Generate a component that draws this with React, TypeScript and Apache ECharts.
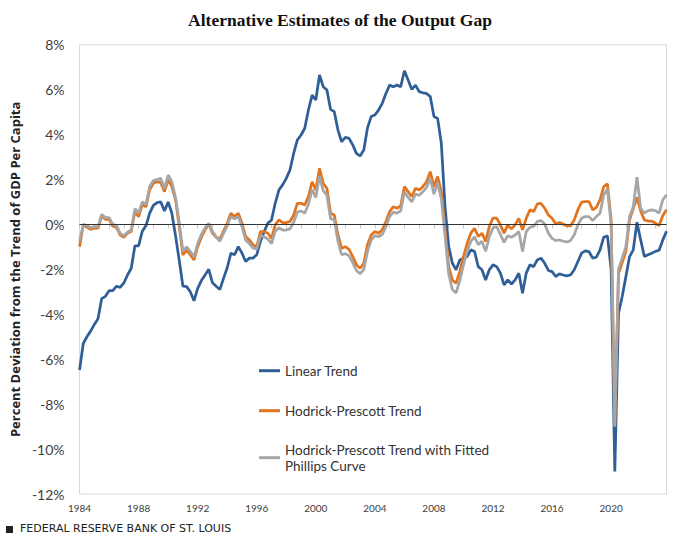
import React, { useEffect, useRef } from "react";
import * as echarts from "echarts";

const TITLE = "Alternative Estimates of the Output Gap";
const Y_NAME = "Percent Deviation from the Trend of GDP Per Capita";
const SOURCE = "FEDERAL RESERVE BANK OF ST. LOUIS";
const SERIES_NAMES = [
  "Linear Trend",
  "Hodrick-Prescott Trend",
  "Hodrick-Prescott Trend with Fitted Phillips Curve",
];

// Quarterly categories 1984Q1 .. 2023Q4
const START_YEAR = 1984;
const END_YEAR = 2023;
const quarters: string[] = [];
for (let y = START_YEAR; y <= END_YEAR; y++) {
  for (let q = 1; q <= 4; q++) quarters.push(`${y}Q${q}`);
}

const linearTrend = [
  -6.48, -5.3, -5.0, -4.75, -4.45, -4.2, -3.3, -3.2, -2.95, -2.95,
  -2.75, -2.8, -2.6, -2.25, -1.95, -0.95, -0.95, -0.3, -0.05, 0.5,
  0.85, 0.97, 1.0, 0.6, 1.0, 0.5, -0.5, -1.6, -2.75, -2.77,
  -3.0, -3.4, -2.85, -2.5, -2.25, -2.0, -2.6, -2.75, -2.9, -2.4,
  -1.93, -1.28, -1.35, -0.99, -1.28, -1.65, -1.5, -1.5, -1.35, -0.76,
  -0.32, 0.05, 0.2, 0.94, 1.53, 1.76, 2.05, 2.42, 3.16, 3.76,
  3.98, 4.28, 5.09, 5.76, 5.54, 6.65, 6.13, 5.98, 5.12, 5.02,
  4.2, 3.68, 3.88, 3.83, 3.54, 3.16, 3.05, 3.31, 4.3, 4.8,
  4.87, 5.09, 5.39, 5.83, 6.2, 6.13, 6.2, 6.13, 6.84, 6.43,
  6.01, 6.2, 5.91, 5.86, 5.83, 5.69, 4.8, 4.72, 3.61, 0.79,
  -0.99, -1.73, -2.02, -1.58, -1.5, -1.43, -1.13, -1.21, -1.88, -2.02,
  -2.47, -2.02, -1.8, -1.88, -2.17, -2.69, -2.47, -2.65, -2.47, -2.17,
  -3.06, -2.17, -1.8, -1.88, -1.58, -1.5, -1.73, -2.05, -2.1, -2.32,
  -2.2, -2.25, -2.29, -2.25, -2.02, -1.65, -1.28, -1.18, -1.21, -1.5,
  -1.46, -1.13, -0.57, -0.51, -2.0, -11.0, -3.95, -3.21, -2.32, -1.43,
  -1.13, 0.1, -0.69, -1.43, -1.35, -1.28, -1.2, -1.15, -0.69, -0.3,
];

const hpTrend = [
  -0.99, -0.02, -0.13, -0.22, -0.17, -0.17, 0.38, 0.23, 0.23, -0.07,
  -0.13, -0.47, -0.57, -0.39, -0.32, 0.57, 0.35, 0.87, 0.79, 1.54,
  1.83, 1.9, 1.86, 1.46, 1.98, 1.68, 1.09, -0.1, -1.36, -1.13,
  -1.36, -1.58, -0.99, -0.57, -0.24, 0.02, -0.39, -0.57, -0.65, -0.3,
  0.05, 0.5, 0.35, 0.5, 0.05, -0.54, -0.69, -0.91, -0.99, -0.32,
  -0.32, -0.39, -0.62, -0.02, 0.2, 0.08, 0.08, 0.13, 0.42, 0.94,
  0.94, 0.87, 1.24, 1.9, 1.53, 2.5, 1.83, 1.61, 0.5, 0.42,
  -0.47, -1.06, -0.99, -1.11, -1.43, -1.8, -1.95, -1.73, -0.9, -0.47,
  -0.32, -0.39, -0.24, 0.13, 0.57, 0.79, 0.72, 0.83, 1.68, 1.46,
  1.24, 1.61, 1.53, 1.68, 1.9, 2.35, 1.68, 2.13, 1.46, -0.24,
  -1.88, -2.47, -2.62, -2.1, -1.43, -0.84, -0.39, -0.17, -0.54, -0.39,
  -0.76, -0.09, 0.28, 0.28, -0.02, -0.39, -0.02, -0.2, -0.02, 0.27,
  -0.24, 0.27, 0.65, 0.57, 0.91, 0.94, 0.72, 0.42, 0.27, 0.02,
  0.08, 0.02, -0.07, -0.07, 0.2, 0.65, 0.99, 1.02, 1.02, 0.65,
  0.76, 1.09, 1.68, 1.8, 0.2, -8.9, -2.2, -1.7, -1.2, 0.2,
  0.7, 1.2, 0.6, 0.2, 0.15, 0.15, 0.05, -0.05, 0.4, 0.65,
];

const hpPhillips = [
  -0.75, 0.0, -0.05, -0.15, -0.1, -0.1, 0.45, 0.3, 0.3, 0.0,
  -0.05, -0.4, -0.5, -0.35, -0.25, 0.7, 0.5, 1.0, 0.9, 1.7,
  1.95, 2.0, 2.05, 1.6, 2.2, 1.9, 1.2, 0.1, -1.2, -1.0,
  -1.2, -1.45, -0.85, -0.45, -0.15, 0.05, -0.3, -0.55, -0.75, -0.4,
  -0.05, 0.35, 0.25, 0.35, -0.1, -0.7, -0.85, -1.05, -1.1, -0.5,
  -0.55, -0.65, -0.85, -0.3, -0.15, -0.25, -0.25, -0.2, 0.1, 0.55,
  0.6, 0.5, 0.9, 1.55, 1.2, 2.15, 1.5, 1.3, 0.25, 0.2,
  -0.75, -1.35, -1.3, -1.4, -1.7, -2.05, -2.2, -2.0, -1.2, -0.7,
  -0.5, -0.55, -0.45, -0.1, 0.35, 0.55, 0.5, 0.6, 1.45, 1.2,
  1.0, 1.35, 1.3, 1.45, 1.65, 2.05, 1.35, 1.85, 1.15, -0.5,
  -2.2, -2.9, -3.05, -2.5, -1.8, -1.2, -0.75, -0.55, -0.9, -0.75,
  -1.2, -0.55, -0.15, -0.1, -0.45, -0.8, -0.5, -0.57, -0.47, -0.32,
  -1.21, -0.32, -0.13, -0.09, 0.13, 0.17, 0.02, -0.39, -0.62, -0.72,
  -0.69, -0.75, -0.78, -0.72, -0.47, -0.02, 0.27, 0.35, 0.35, 0.17,
  0.35, 0.5, 1.32, 1.57, 0.0, -9.0, -1.98, -1.5, -0.99, 0.35,
  0.79, 2.1, 0.72, 0.5, 0.61, 0.65, 0.61, 0.5, 1.09, 1.32,
];

const COLORS = ["#2f5f96", "#e3741e", "#a6a6a6"];

export default function App() {
  const ref = useRef<HTMLDivElement>(null);

  useEffect(() => {
    if (!ref.current) return;
    const chart = echarts.init(ref.current, undefined, { renderer: "svg" });
    const mkSeries = (name: string, data: number[], color: string, extra: any = {}) => ({
      name,
      type: "line",
      data,
      symbol: "none",
      showSymbol: false,
      lineStyle: { color, width: 2.75 },
      itemStyle: { color },
      emphasis: { disabled: true },
      ...extra,
    });
    const legendText = {
      fontFamily: "Lato",
      fontSize: 13.5,
      color: "#333",
      lineHeight: 16,
    };
    chart.setOption({
      animation: false,
      textStyle: { fontFamily: "Lato" },
      title: {
        text: TITLE,
        left: "center",
        top: 6,
        textStyle: {
          fontFamily: "Liberation Serif",
          fontWeight: "bold",
          fontSize: 17.5,
          color: "#111",
        },
      },
      grid: {
        left: 73,
        right: 13.5,
        top: 44.7,
        bottom: 45,
        show: true,
        borderColor: "#d9d9d9",
        borderWidth: 1,
        containLabel: false,
      },
      legend: [
        {
          orient: "vertical",
          left: 259,
          top: 362.7,
          padding: 0,
          icon: "rect",
          itemWidth: 21,
          itemHeight: 3,
          itemGap: 24,
          data: [SERIES_NAMES[0], SERIES_NAMES[1]],
          textStyle: legendText,
          selectedMode: false,
        },
        {
          orient: "vertical",
          left: 259,
          top: 433.7,
          padding: 0,
          icon: "rect",
          itemWidth: 21,
          itemHeight: 3,
          data: [SERIES_NAMES[2]],
          formatter: () => "Hodrick-Prescott Trend with Fitted\nPhillips Curve",
          textStyle: { ...legendText, padding: [16, 0, 0, 0] },
          selectedMode: false,
        },
      ],
      xAxis: {
        type: "category",
        data: quarters,
        boundaryGap: false,
        axisLine: { show: true, lineStyle: { color: "#d9d9d9", width: 1 } },
        axisTick: {
          show: true,
          length: 4,
          interval: (idx: number) => idx % 4 === 0,
          lineStyle: { color: "#c8c8c8" },
        },
        axisLabel: {
          interval: (idx: number) => idx % 16 === 0,
          formatter: (v: string) => v.slice(0, 4),
          fontFamily: "Lato",
          fontSize: 10,
          color: "#404040",
          margin: 9,
        },
        splitLine: { show: false },
      },
      yAxis: {
        type: "value",
        min: -12,
        max: 8,
        interval: 2,
        name: Y_NAME,
        nameLocation: "middle",
        nameGap: 50,
        nameTextStyle: {
          fontFamily: "Open Sans",
          fontWeight: "bold",
          fontSize: 13,
          color: "#222",
        },
        axisLine: { show: false },
        axisTick: { show: false },
        splitLine: { show: false },
        axisLabel: {
          formatter: "{value}%",
          fontFamily: "Lato",
          fontSize: 14,
          color: "#404040",
          margin: 15,
        },
      },
      series: [
        mkSeries(SERIES_NAMES[0], linearTrend, COLORS[0], {
          markLine: {
            silent: true,
            symbol: ["none", "none"],
            label: { show: false },
            lineStyle: { color: "#333", width: 1, type: "solid" },
            emphasis: { disabled: true },
            data: [{ yAxis: 0 }],
          },
        }),
        mkSeries(SERIES_NAMES[1], hpTrend, COLORS[1]),
        mkSeries(SERIES_NAMES[2], hpPhillips, COLORS[2]),
      ],
      graphic: [
        {
          type: "rect",
          left: 6,
          top: 526,
          shape: { width: 7, height: 7 },
          style: { fill: "#222" },
        },
        {
          type: "text",
          left: 20,
          top: 523,
          style: {
            text: SOURCE,
            fontFamily: "DejaVu Sans",
            fontSize: 11,
            fill: "#222",
          },
        },
      ],
    });
    return () => chart.dispose();
  }, []);

  return <div ref={ref} style={{ width: 680, height: 539, position: "absolute", left: 0, top: 0 }} />;
}
